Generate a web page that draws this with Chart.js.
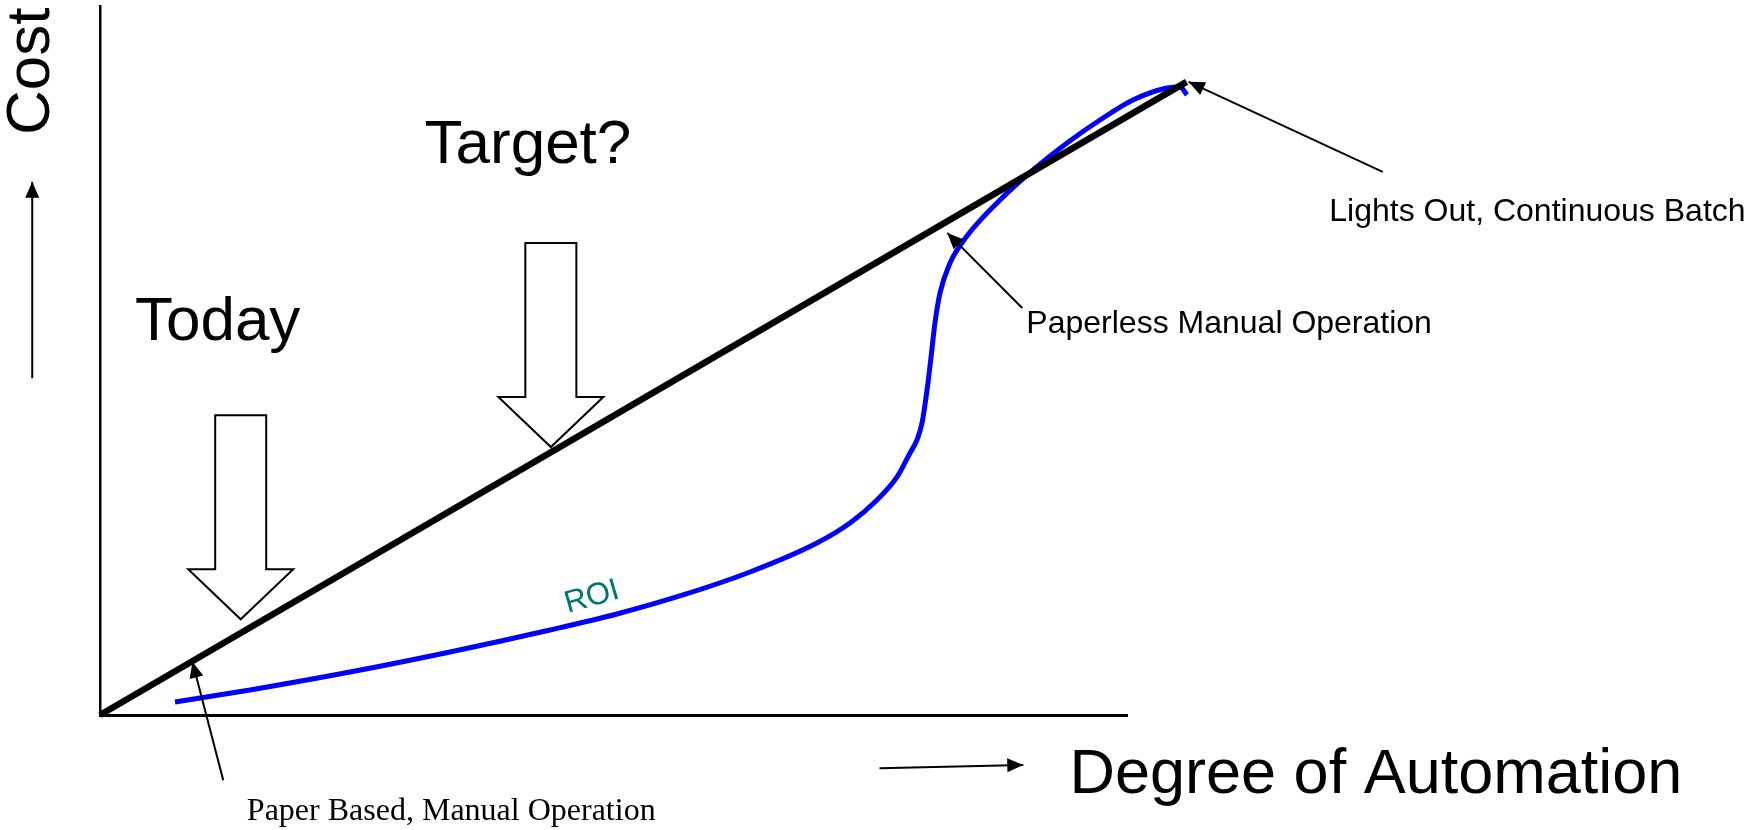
<!DOCTYPE html>
<html>
<head>
<meta charset="utf-8">
<title>Cost vs Degree of Automation</title>
<script src="https://cdn.jsdelivr.net/npm/chart.js@4.4.1/dist/chart.umd.min.js"></script>
<style>
	html, body { margin: 0; padding: 0; background: #ffffff; }
	#costChart { display: block; }
</style>
</head>
<body>
<canvas id="costChart" width="1763" height="830"></canvas>
<script>
///
///	Data (chart units, 0-100 on both axes)
///

// Straight cost line
var costX = [0, 105.8];
var costY = [0, 89.3];

// ROI curve
var roiX = [7.30, 14.61, 24.34, 34.08, 43.82, 50.34, 56.77, 63.29, 69.81, 73.03, 75.66, 77.61, 78.87, 79.55,
	80.04, 80.53, 80.92, 81.30, 81.79, 82.77, 84.42, 87.63, 90.85, 94.16, 97.37, 100.58, 103.89, 105.16, 105.84];
var roiY = [1.83, 3.53, 6.06, 8.89, 11.99, 14.25, 16.93, 20.17, 24.26, 27.08, 30.32, 33.57, 36.95, 38.79,
	41.18, 45.84, 50.49, 55.29, 59.52, 63.75, 67.56, 72.64, 76.87, 80.68, 83.92, 86.74, 88.43, 88.58, 87.45];

// Stage markers (where the hollow arrows point)
var stageNames = ["Today", "Target?"];
var stageX = [13.7, 43.9];
var stageY = [13.5, 37.8];

// Points along the curve that get a caption
var milestoneNames = ["Paper Based, Manual Operation", "Paperless Manual Operation", "Lights Out, Continuous Batch"];
var milestoneX = [9.0, 82.5, 106.0];
var milestoneY = [7.5, 68.0, 89.3];

var xTitle = "Degree of Automation";
var yTitle = "Cost";
var curveLabel = "ROI";

///
///	Annotation layout (positions in chart units, sizes in px)
///

var sans = '"Liberation Sans", Arial, sans-serif';
var serif = '"Liberation Serif", "Times New Roman", serif';

var labels = [
	{ text: yTitle, x: -5.0, y: 90.8, font: '62px ' + sans, align: 'center', rotate: -90 },
	{ text: stageNames[0], x: 3.4, y: 52.9, font: '62px ' + sans, align: 'left' },
	{ text: stageNames[1], x: 31.6, y: 77.9, font: '62px ' + sans, align: 'left' },
	{ text: xTitle, x: 94.4, y: -11.0, font: '63px ' + sans, align: 'left' },
	{ text: milestoneNames[0], x: 14.3, y: -14.8, font: '32px ' + serif, align: 'left' },
	{ text: milestoneNames[1], x: 90.2, y: 53.9, font: '32px ' + sans, align: 'left' },
	{ text: milestoneNames[2], x: 119.7, y: 69.7, font: '32px ' + sans, align: 'left' },
	{ text: curveLabel, x: 47.9, y: 16.6, font: '31px ' + sans, align: 'center', baseline: 'middle', rotate: -16, color: '#007373' }
];

// Thin arrows: tail -> tip
var arrows = [
	{ from: [-6.6, 47.5], to: [-6.6, 75.2] },
	{ from: [75.9, -7.5], to: [89.9, -7.05] },
	{ from: [12.0, -9.2], to: [milestoneX[0], milestoneY[0]] },
	{ from: [89.8, 57.4], to: [milestoneX[1], milestoneY[1]] },
	{ from: [124.9, 76.6], to: [milestoneX[2], milestoneY[2]] }
];

///
///	Plugin drawing the hollow block arrows, captions and pointer arrows
///

function drawHead(ctx, x1, y1, x2, y2, len, half) {
	var a = Math.atan2(y2 - y1, x2 - x1);
	ctx.beginPath();
	ctx.moveTo(x2, y2);
	ctx.lineTo(x2 - len * Math.cos(a) + half * Math.sin(a), y2 - len * Math.sin(a) - half * Math.cos(a));
	ctx.lineTo(x2 - len * Math.cos(a) - half * Math.sin(a), y2 - len * Math.sin(a) + half * Math.cos(a));
	ctx.closePath();
	ctx.fill();
}

var annotate = {
	id: 'annotate',
	beforeDatasetsDraw: function(chart) {
		var ctx = chart.ctx, sx = chart.scales.x, sy = chart.scales.y;
		ctx.save();
		ctx.lineWidth = 2;
		ctx.strokeStyle = '#000';
		ctx.fillStyle = '#fff';
		ctx.lineJoin = 'miter';
		for (var i = 0; i < stageX.length; i++) {
			var tx = sx.getPixelForValue(stageX[i]);
			var ty = sy.getPixelForValue(stageY[i]);
			var shaft = 25.5, head = 52.5, headLen = 50, shaftLen = 154;
			ctx.beginPath();
			ctx.moveTo(tx - shaft, ty - headLen - shaftLen);
			ctx.lineTo(tx + shaft, ty - headLen - shaftLen);
			ctx.lineTo(tx + shaft, ty - headLen);
			ctx.lineTo(tx + head, ty - headLen);
			ctx.lineTo(tx, ty);
			ctx.lineTo(tx - head, ty - headLen);
			ctx.lineTo(tx - shaft, ty - headLen);
			ctx.closePath();
			ctx.fill();
			ctx.stroke();
		}
		ctx.restore();
	},
	afterDatasetsDraw: function(chart) {
		var ctx = chart.ctx, sx = chart.scales.x, sy = chart.scales.y;
		ctx.save();

		// pointer arrows
		ctx.strokeStyle = '#000';
		ctx.fillStyle = '#000';
		ctx.lineWidth = 2;
		arrows.forEach(function(a) {
			var x1 = sx.getPixelForValue(a.from[0]), y1 = sy.getPixelForValue(a.from[1]);
			var x2 = sx.getPixelForValue(a.to[0]), y2 = sy.getPixelForValue(a.to[1]);
			ctx.beginPath();
			ctx.moveTo(x1, y1);
			ctx.lineTo(x2, y2);
			ctx.stroke();
			drawHead(ctx, x1, y1, x2, y2, 16, 7);
		});

		// captions
		labels.forEach(function(l) {
			ctx.save();
			ctx.translate(sx.getPixelForValue(l.x), sy.getPixelForValue(l.y));
			if (l.rotate) ctx.rotate(l.rotate * Math.PI / 180);
			ctx.font = l.font;
			ctx.fillStyle = l.color || '#000';
			ctx.textAlign = l.align;
			ctx.textBaseline = l.baseline || 'alphabetic';
			ctx.fillText(l.text, 0, 0);
			ctx.restore();
		});
		ctx.restore();
	}
};

///
///	Chart
///

var costChart = new Chart(document.getElementById('costChart'), {
	type: 'line',
	data: {
		datasets: [{
			label: 'Cost',
			data: costX.map(function(x, i) { return { x: x, y: costY[i] }; }),
			borderColor: '#000000',
			borderWidth: 6.5,
			pointRadius: 0,
			clip: false
		},
		{
			label: curveLabel,
			data: roiX.map(function(x, i) { return { x: x, y: roiY[i] }; }),
			borderColor: '#0000ff',
			borderWidth: 5,
			pointRadius: 0,
			cubicInterpolationMode: 'monotone',
			clip: false
		}]
	},
	options: {
		responsive: false,
		animation: false,
		devicePixelRatio: 1,
		layout: { padding: { left: 100, top: 6, right: 636, bottom: 115 } },
		plugins: {
			legend: { display: false },
			tooltip: { enabled: false }
		},
		scales: {
			x: {
				type: 'linear',
				bounds: 'data',
				// set the range here, not as min/max, so points past the axis end still get drawn
				afterDataLimits: function(scale) { scale.min = 0; scale.max = 100; },
				grid: { display: false, drawTicks: false },
				ticks: { display: false },
				border: { color: '#000', width: 3 }
			},
			y: {
				type: 'linear', min: 0, max: 100,
				grid: { display: false, drawTicks: false },
				ticks: { display: false },
				border: { color: '#000', width: 2.5 }
			}
		}
	},
	plugins: [annotate]
});
</script>
</body>
</html>
